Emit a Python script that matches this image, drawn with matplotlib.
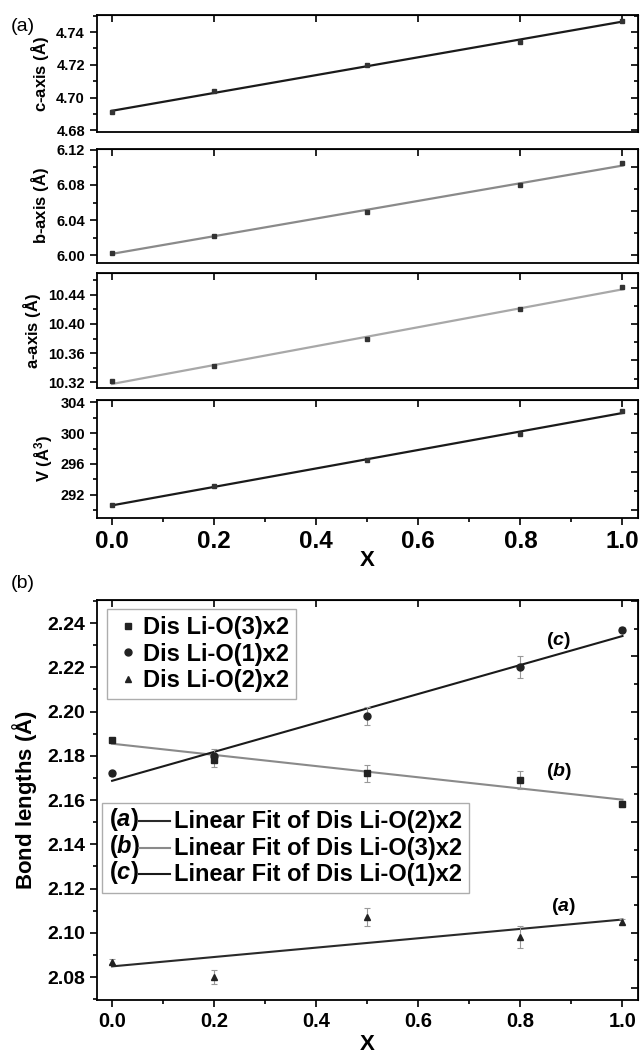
import matplotlib
matplotlib.use('Agg')
import matplotlib.pyplot as plt
import numpy as np
from matplotlib.lines import Line2D
from matplotlib.text import Text
from matplotlib.legend_handler import HandlerBase
from matplotlib.ticker import MultipleLocator, AutoMinorLocator, FormatStrFormatter

plt.rcParams['font.family'] = ['Liberation Sans', 'DejaVu Sans']
plt.rcParams['font.weight'] = 'bold'
plt.rcParams['mathtext.fontset'] = 'custom'
plt.rcParams['mathtext.rm'] = 'Liberation Sans'
plt.rcParams['mathtext.it'] = 'Liberation Sans:italic:bold'
plt.rcParams['mathtext.bf'] = 'Liberation Sans:bold'

# composition
x = [0.0, 0.2, 0.5, 0.8, 1.0]

# panel (a): lattice parameters
c_axis = [4.691, 4.704, 4.720, 4.734, 4.747]
b_axis = [6.003, 6.022, 6.049, 6.080, 6.105]
a_axis = [10.321, 10.342, 10.379, 10.420, 10.451]
volume = [290.7, 293.1, 296.5, 299.9, 302.9]

# panel (b): bond lengths and errors
li_o3 = [2.187, 2.178, 2.172, 2.169, 2.158]
li_o3_err = [0.001, 0.003, 0.004, 0.004, 0.001]
li_o1 = [2.172, 2.180, 2.198, 2.220, 2.237]
li_o1_err = [0.001, 0.003, 0.004, 0.005, 0.001]
li_o2 = [2.087, 2.080, 2.107, 2.098, 2.105]
li_o2_err = [0.001, 0.003, 0.004, 0.005, 0.001]

fig = plt.figure(figsize=(6.41, 10.53), dpi=100)

L, W = 0.151, 0.844


def style_axis(ax, ysize, show_x):
    ax.xaxis.set_major_locator(MultipleLocator(0.2))
    ax.xaxis.set_minor_locator(MultipleLocator(0.1))
    ax.yaxis.set_minor_locator(AutoMinorLocator(2))
    ax.tick_params(which='both', direction='out', top=False, right=False, width=1.2)
    ax.tick_params(which='major', length=5, labelsize=ysize)
    ax.tick_params(which='minor', length=3)
    for s in ax.spines.values():
        s.set_linewidth(1.3)
    # mirrored inside ticks on top/right
    sec = ax.secondary_yaxis('right')
    sec.tick_params(which='both', direction='in', labelright=False, width=1.2)
    sec.tick_params(which='major', length=5)
    sec.tick_params(which='minor', length=3)
    sec.yaxis.set_minor_locator(AutoMinorLocator(2))
    secx = ax.secondary_xaxis('top')
    secx.tick_params(which='both', direction='in', labeltop=False, width=1.2)
    secx.tick_params(which='major', length=5)
    secx.tick_params(which='minor', length=0)
    secx.xaxis.set_major_locator(MultipleLocator(0.2))
    if not show_x:
        ax.tick_params(axis='x', which='both', labelbottom=False, length=0)


def lattice_panel(rect, y, color, ylim, yticks, ylabel, show_x=False):
    ax = fig.add_axes(rect)
    k, b = np.polyfit(x, y, 1)
    xf = np.array([x[0], x[-1]])
    ax.plot(xf, k * xf + b, color=color, lw=1.6)
    ax.plot(x, y, 's', color='#333333', ms=2.2)
    ax.set_xlim(-0.03, 1.03)
    ax.set_ylim(*ylim)
    ax.set_yticks(yticks)
    ax.set_ylabel(ylabel, fontsize=12, fontweight='bold', labelpad=4)
    style_axis(ax, 10.5, show_x)
    return ax


ax_c = lattice_panel([L, 0.8746, W, 0.1111], c_axis, '#1a1a1a', (4.679, 4.7504),
                     [4.68, 4.70, 4.72, 4.74], r'c-axis ($\mathrm{\AA}$)')
ax_b = lattice_panel([L, 0.7502, W, 0.1083], b_axis, '#8a8a8a', (5.991, 6.121),
                     [6.00, 6.04, 6.08, 6.12], r'b-axis ($\mathrm{\AA}$)')
ax_a = lattice_panel([L, 0.6315, W, 0.1092], a_axis, '#a8a8a8', (10.312, 10.470),
                     [10.32, 10.36, 10.40, 10.44], r'a-axis ($\mathrm{\AA}$)')
ax_v = lattice_panel([L, 0.5081, W, 0.1121], volume, '#1a1a1a', (289.0, 304.3),
                     [292, 296, 300, 304], r'V ($\mathrm{\AA}^3$)', show_x=True)
ax_v.tick_params(axis='x', labelsize=17.5)
ax_v.set_xlabel('X', fontsize=16, fontweight='bold', labelpad=-2)
for ax in (ax_c, ax_b, ax_a):
    ax.yaxis.set_major_formatter(FormatStrFormatter('%.2f'))
ax_v.yaxis.set_major_formatter(FormatStrFormatter('%d'))
fig.text(0.017, 0.975, '(a)', fontsize=14, fontweight='normal', va='center')

# panel (b)
axb = fig.add_axes([L, 0.0503, W, 0.3799])
series = [
    (li_o3, li_o3_err, 's', '#8a8a8a', 'Dis Li-O(3)x2'),
    (li_o1, li_o1_err, 'o', '#1a1a1a', 'Dis Li-O(1)x2'),
    (li_o2, li_o2_err, '^', '#2a2a2a', 'Dis Li-O(2)x2'),
]
pts = []
fits = {}
xf = np.array([x[0], x[-1]])
for y, e, m, lc, lab in series:
    k, b = np.polyfit(x, y, 1)
    fits[lab] = axb.plot(xf, k * xf + b, color=lc, lw=1.5, zorder=2)[0]
    axb.errorbar(x, y, yerr=e, fmt='none', ecolor='#999999', elinewidth=0.8,
                 capsize=2.5, capthick=0.8, zorder=3)
    pts.append(axb.plot(x, y, m, color='#222222', ms=5, label=lab, zorder=4)[0])

axb.set_xlim(-0.03, 1.03)
axb.set_ylim(2.0696, 2.2504)
axb.yaxis.set_major_locator(MultipleLocator(0.02))
axb.yaxis.set_major_formatter(FormatStrFormatter('%.2f'))
style_axis(axb, 14, True)
axb.tick_params(axis='x', labelsize=14.5)
axb.set_xlabel('X', fontsize=16, fontweight='bold', labelpad=2)
axb.set_ylabel(r'Bond lengths ($\mathrm{\AA}$)', fontsize=16, fontweight='bold', labelpad=6)
fig.text(0.017, 0.446, '(b)', fontsize=14, fontweight='normal', va='center')

axb.text(0.875, 2.232, r'($\mathit{c}$)', fontsize=14, ha='center', va='center')
axb.text(0.875, 2.173, r'($\mathit{b}$)', fontsize=14, ha='center', va='center')
axb.text(0.885, 2.112, r'($\mathit{a}$)', fontsize=14, ha='center', va='center')

leg1 = axb.legend(handles=pts, loc='upper left', bbox_to_anchor=(0.018, 0.9775),
                  borderaxespad=0, fontsize=17, frameon=True, fancybox=False,
                  edgecolor='#999999', handlelength=1.2, handletextpad=0.05,
                  labelspacing=0.15, borderpad=0.3, markerscale=1.0)
leg1.get_frame().set_linewidth(1.0)
axb.add_artist(leg1)


class TagLine(HandlerBase):
    def __init__(self, tag):
        super().__init__()
        self.tag = tag

    def create_artists(self, legend, orig_handle, xdescent, ydescent, width,
                       height, fontsize, trans):
        t = Text(-xdescent, -ydescent + height / 2, self.tag, fontsize=fontsize,
                 ha='left', va='center', transform=trans)
        y0 = -ydescent + height / 2 - 1
        ln = Line2D([-xdescent + width * 0.5, -xdescent + width], [y0, y0],
                    color=orig_handle.get_color(), lw=1.5, transform=trans)
        return [t, ln]


fit_handles = [fits['Dis Li-O(2)x2'], fits['Dis Li-O(3)x2'], fits['Dis Li-O(1)x2']]
fit_labels = ['Linear Fit of Dis Li-O(2)x2', 'Linear Fit of Dis Li-O(3)x2',
              'Linear Fit of Dis Li-O(1)x2']
tags = [r'($\mathit{a}$)', r'($\mathit{b}$)', r'($\mathit{c}$)']
leg2 = axb.legend(fit_handles, fit_labels, loc='upper left',
                  bbox_to_anchor=(0.009, 0.4925), borderaxespad=0, fontsize=17,
                  frameon=True, fancybox=False, edgecolor='#999999',
                  handlelength=2.6, handletextpad=0.15, labelspacing=0.15,
                  borderpad=0.3,
                  handler_map={h: TagLine(t) for h, t in zip(fit_handles, tags)})
leg2.get_frame().set_linewidth(1.0)

fig.savefig('out.png', dpi=100)
